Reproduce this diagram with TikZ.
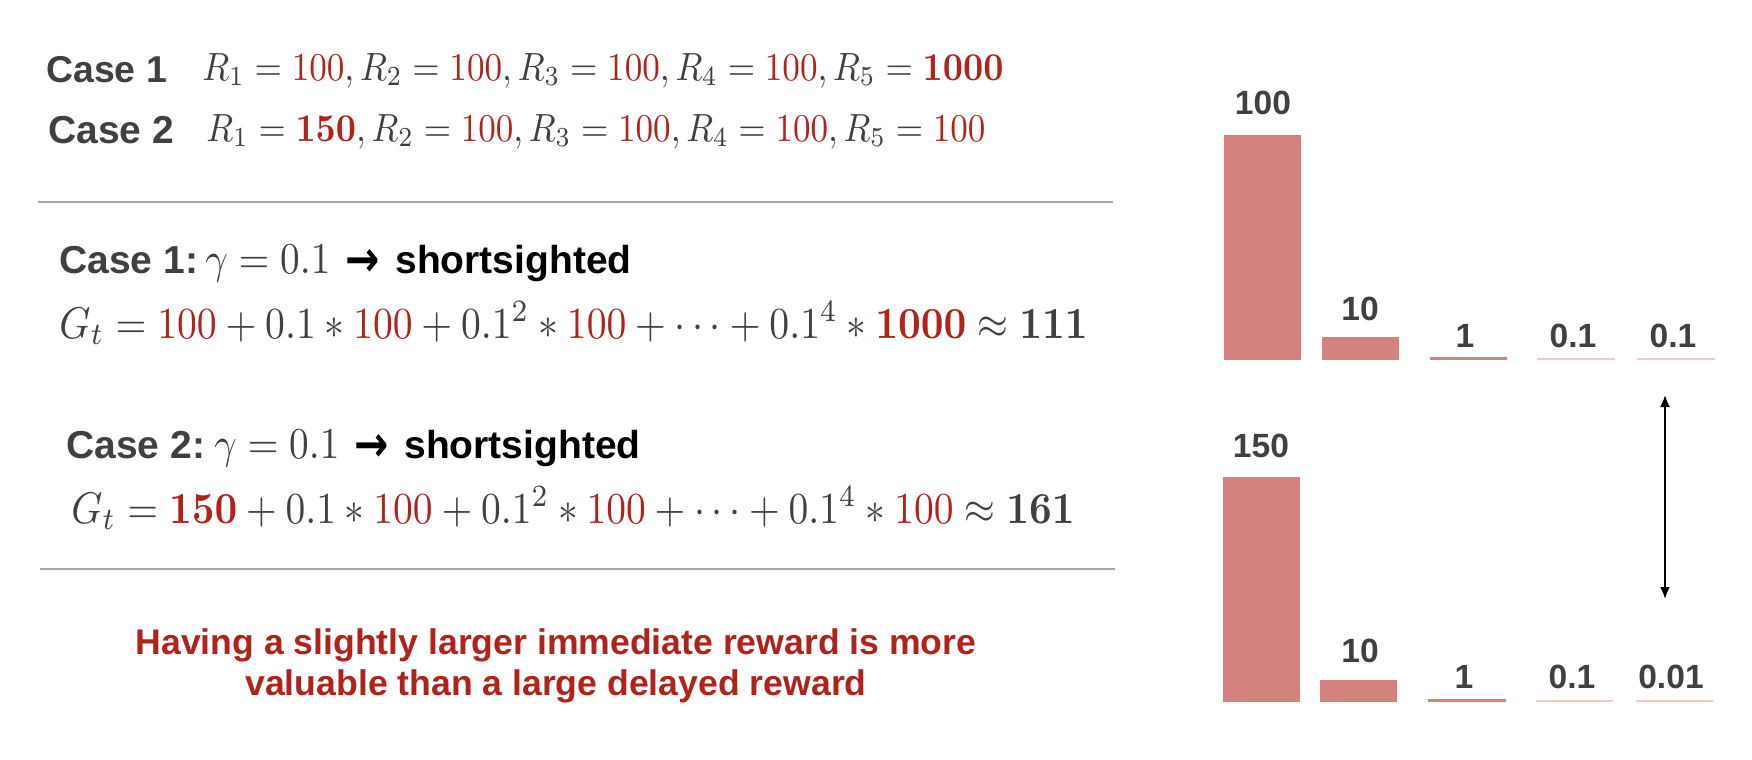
\documentclass[tikz,border=0pt]{standalone}
\usepackage[no-math]{fontspec}
\setmainfont{Liberation Sans}
\newfontfamily\arrowfont{DejaVu Sans}
\usepackage{graphicx}
\usetikzlibrary{arrows.meta}
\definecolor{txtgray}{HTML}{404040}
\definecolor{accred}{HTML}{B0231B}
\definecolor{barred}{HTML}{D3827E}
\definecolor{barpale}{HTML}{F3C9C8}
\definecolor{rulegray}{HTML}{A8A8A8}
\newcommand{\rv}[1]{\textcolor{accred}{#1}}
\newcommand{\rb}[1]{\textcolor{accred}{\mathbf{#1}}}
\newcommand{\mfit}[2]{\scalebox{1}[1.12]{\resizebox{#1}{!}{#2}}}
\begin{document}
\begin{tikzpicture}[x=0.5pt,y=-0.5pt,
  casetxt/.style={anchor=base west, inner sep=0pt, font=\fontsize{19.5}{23}\selectfont\bfseries, text=txtgray},
  mathtxt/.style={anchor=base west, inner sep=0pt, text=txtgray},
  arrowtxt/.style={anchor=base west, inner sep=0pt, font=\fontsize{25}{28}\selectfont\arrowfont\bfseries, text=black},
  shorttxt/.style={anchor=base west, inner sep=0pt, font=\fontsize{19.5}{23}\selectfont\bfseries, text=black},
  barlbl/.style={anchor=base, inner sep=0pt, font=\fontsize{16.8}{20}\selectfont\bfseries, text=txtgray},
  sepline/.style={draw=rulegray, line width=0.75pt},
  bigbar/.style={fill=barred},
  palebar/.style={fill=barpale},
  msgtxt/.style={align=center, inner sep=0pt, font=\fontsize{17.8}{20.5}\selectfont\bfseries, text=accred}]
\useasboundingbox (0,0) rectangle (1752,760);

% header cases
\node[casetxt, font=\fontsize{18.7}{22}\selectfont\bfseries] (c1) at (46,82) {Case 1};
\node[mathtxt] (m1) at (202,80) {\mfit{400.5pt}{$R_1 = \rv{100}, R_2 = \rv{100}, R_3 = \rv{100}, R_4 = \rv{100}, R_5 = \rb{1000}$}};
\node[casetxt] (c2) at (48,143) {Case 2};
\node[mathtxt] (m2) at (206,141) {\mfit{389.5pt}{$R_1 = \rb{150}, R_2 = \rv{100}, R_3 = \rv{100}, R_4 = \rv{100}, R_5 = \rv{100}$}};

\draw[sepline] (38,202) -- (1113,202);

% case 1 return
\node[casetxt] (h1) at (59,273) {Case 1:};
\node[mathtxt] (g1) at (205,273) {\mfit{62.5pt}{$\gamma = 0.1$}};
\node[arrowtxt] (a1) at (345,276) {\scalebox{0.82}[1]{→}};
\node[shorttxt] (s1) at (395,273) {shortsighted};
\node[mathtxt] (e1) at (59,338) {\mfit{514pt}{$G_t = \rv{100} + 0.1 * \rv{100} + 0.1^2 * \rv{100} + \cdots + 0.1^4 * \rb{1000} \approx \mathbf{111}$}};

% case 2 return
\node[casetxt] (h2) at (66,458) {Case 2:};
\node[mathtxt] (g2) at (214,458) {\mfit{62.5pt}{$\gamma = 0.1$}};
\node[arrowtxt] (a2) at (354,461) {\scalebox{0.82}[1]{→}};
\node[shorttxt] (s2) at (404,458) {shortsighted};
\node[mathtxt] (e2) at (71,523) {\mfit{501.5pt}{$G_t = \rb{150} + 0.1 * \rv{100} + 0.1^2 * \rv{100} + \cdots + 0.1^4 * \rv{100} \approx \mathbf{161}$}};

\draw[sepline] (40,569) -- (1115,569);

\node[msgtxt] (msg) at (556,666) {Having a slightly larger immediate reward is more\\valuable than a large delayed reward};

% top chart
\fill[bigbar] (1224,135) rectangle (1301,360);
\fill[bigbar] (1322,337) rectangle (1399,360);
\fill[bigbar] (1430,357) rectangle (1507,360);
\fill[palebar] (1537,358) rectangle (1615,360);
\fill[palebar] (1637,358) rectangle (1715,360);
\node[barlbl] (t1) at (1263,114) {100};
\node[barlbl] (t2) at (1360,320) {10};
\node[barlbl] (t3) at (1465,347) {1};
\node[barlbl] (t4) at (1573,347) {0.1};
\node[barlbl] (t5) at (1673,347) {0.1};

% bottom chart
\fill[bigbar] (1223,477) rectangle (1300,702);
\fill[bigbar] (1320,680) rectangle (1397,702);
\fill[bigbar] (1428,699) rectangle (1506,702);
\fill[palebar] (1536,700) rectangle (1613,702);
\fill[palebar] (1636,700) rectangle (1713,702);
\node[barlbl] (b1) at (1261,457) {150};
\node[barlbl] (b2) at (1360,662) {10};
\node[barlbl] (b3) at (1464,688) {1};
\node[barlbl] (b4) at (1572,688) {0.1};
\node[barlbl] (b5) at (1671,688) {0.01};

\coordinate (arrtop) at (1665,395);
\coordinate (arrbot) at (1665,599);
\draw[line width=1pt, {Latex[length=6pt,width=5pt]}-{Latex[length=6pt,width=5pt]}] (arrtop) -- (arrbot);
\end{tikzpicture}
\end{document}
